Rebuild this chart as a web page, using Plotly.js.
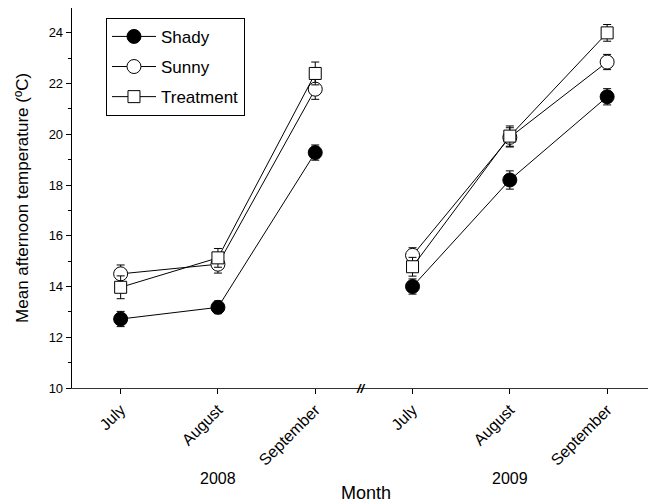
<!DOCTYPE html>
<html>
<head>
<meta charset="utf-8">
<script src="https://cdn.plot.ly/plotly-3.0.1.min.js"></script>
<style>html,body{margin:0;padding:0;background:#fff;}#chart{width:648px;height:504px;}</style>
</head>
<body>
<div id="chart"></div>
<script>
const months = ["July", "August", "September"];
const years = ["2008", "2009"];
const seriesNames = ["Shady", "Sunny", "Treatment"];

const shady2008 = [12.72, 13.18, 19.28];
const shady2009 = [14.00, 18.20, 21.48];
const sunny2008 = [14.50, 14.88, 21.78];
const sunny2009 = [15.23, 19.88, 22.85];
const treat2008 = [13.97, 15.13, 22.40];
const treat2009 = [14.78, 19.93, 24.00];

const shadyErr2008 = [0.30, 0.25, 0.30];
const shadyErr2009 = [0.30, 0.36, 0.32];
const sunnyErr2008 = [0.35, 0.35, 0.40];
const sunnyErr2009 = [0.30, 0.38, 0.30];
const treatErr2008 = [0.45, 0.37, 0.45];
const treatErr2009 = [0.37, 0.40, 0.33];

const seriesData = [
  {name: seriesNames[0], vals: [shady2008, shady2009], errs: [shadyErr2008, shadyErr2009],
   marker: {symbol: "circle", size: 14, color: "#000", line: {color: "#000", width: 1}}},
  {name: seriesNames[1], vals: [sunny2008, sunny2009], errs: [sunnyErr2008, sunnyErr2009],
   marker: {symbol: "circle", size: 14, color: "#fff", line: {color: "#000", width: 1}}},
  {name: seriesNames[2], vals: [treat2008, treat2009], errs: [treatErr2008, treatErr2009],
   marker: {symbol: "square", size: 12, color: "#fff", line: {color: "#000", width: 1}}}
];

const tickVals = [];
const tickText = [];
years.forEach((y, yi) => months.forEach((m, mi) => { tickVals.push(yi * 3 + mi); tickText.push(m); }));

const traces = [];
seriesData.forEach((s, si) => {
  years.forEach((yr, yi) => {
    traces.push({
      type: "scatter",
      mode: "lines+markers",
      name: s.name,
      legendgroup: s.name,
      showlegend: yi === 0,
      x: months.map((m, mi) => yi * 3 + mi),
      y: s.vals[yi],
      error_y: {type: "data", array: s.errs[yi], visible: true, color: "#000", thickness: 1, width: 4},
      line: {color: "#000", width: 1},
      marker: s.marker
    });
  });
});

const font = {family: "Liberation Sans, Arial, sans-serif", color: "#000"};

const layout = {
  width: 648, height: 504,
  margin: {l: 72, r: 0, t: 8, b: 116},
  paper_bgcolor: "#fff", plot_bgcolor: "#fff",
  font: Object.assign({size: 13}, font),
  showlegend: true,
  legend: {
    x: 0.059, y: 0.974, xanchor: "left", yanchor: "top",
    bgcolor: "#fff", bordercolor: "#000", borderwidth: 1,
    font: Object.assign({size: 17}, font),
    tracegroupgap: 5,
    traceorder: "grouped",
    itemwidth: 44
  },
  xaxis: {
    range: [-0.5, 5.42],
    tickmode: "array", tickvals: tickVals, ticktext: tickText,
    tickangle: -45,
    ticks: "outside", ticklen: 5, tickcolor: "#000", tickwidth: 1,
    showline: true, linecolor: "#333", linewidth: 1.3,
    showgrid: false, zeroline: false,
    tickfont: Object.assign({size: 16}, font)
  },
  yaxis: {
    range: [10, 24.98],
    tickmode: "linear", tick0: 10, dtick: 2,
    ticks: "outside", ticklen: 5, tickcolor: "#000", tickwidth: 1,
    minor: {dtick: 1, ticks: "outside", ticklen: 3, tickcolor: "#000", tickwidth: 1},
    showline: true, linecolor: "#000", linewidth: 1.3,
    showgrid: false, zeroline: false,
    tickfont: Object.assign({size: 13}, font)
  },
  annotations: [
    {text: years[0], xref: "x", yref: "paper", x: 1, y: -0.237, showarrow: false, font: Object.assign({size: 16}, font), yanchor: "middle"},
    {text: years[1], xref: "x", yref: "paper", x: 4, y: -0.237, showarrow: false, font: Object.assign({size: 16}, font), yanchor: "middle"},
    {text: "Month", xref: "paper", yref: "paper", x: 0.51, y: -0.277, showarrow: false, font: Object.assign({size: 18}, font), yanchor: "middle"},
    {text: "Mean afternoon temperature (ºC)", xref: "paper", yref: "paper", x: -0.087, y: 0.5, textangle: -90, showarrow: false, font: Object.assign({size: 17}, font), xanchor: "center", yanchor: "middle"},
    {text: "<b><i>//</i></b>", xref: "x", yref: "paper", x: 2.47, y: 0, showarrow: false, font: Object.assign({size: 13}, font), xanchor: "center", yanchor: "middle"}
  ]
};

Plotly.newPlot("chart", traces, layout, {displayModeBar: false, staticPlot: true});
</script>
</body>
</html>
